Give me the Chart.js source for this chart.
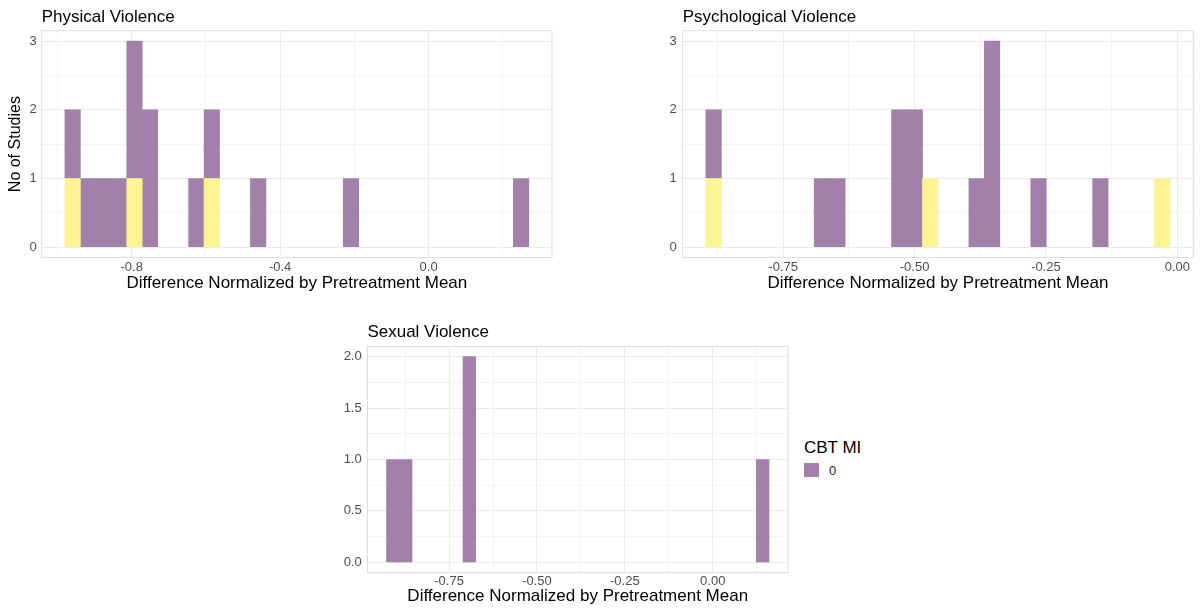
<!DOCTYPE html>
<html>
<head>
<meta charset="utf-8">
<script src="https://cdn.jsdelivr.net/npm/chart.js@4.4.1/dist/chart.umd.min.js"></script>
<style>
  body { margin: 0; background: #fff; }
  #wrap { position: relative; width: 1202px; height: 609px; font-family: 'Liberation Sans', Arial, sans-serif; }
  canvas { position: absolute; }
  #legend { position: absolute; left: 804px; top: 438px; }
  #legend .ttl { font-size: 17px; line-height: 20px; color: #000; }
  #legend .item { position: relative; margin-top: 5px; height: 15px; }
  #legend .sw { position: absolute; left: 0; top: 0; width: 15px; height: 14px; }
  #legend .lab { position: absolute; left: 25px; top: 0; font-size: 13px; line-height: 15px; color: #1a1a1a; }
</style>
</head>
<body>
<div id="wrap">
  <canvas id="physChart" width="560" height="300" style="left:0px;top:0px"></canvas>
  <canvas id="psychChart" width="602" height="300" style="left:600px;top:0px"></canvas>
  <canvas id="sexChart" width="470" height="289" style="left:330px;top:320px"></canvas>
  <div id="legend"></div>
</div>
<script>
// Datos: histogramas de 30 bins (conteos)
const xTitle = 'Difference Normalized by Pretreatment Mean';
const yTitle = 'No of Studies';
const legendTitle = 'CBT MI';
const legendLabels = ['0'];

// Physical Violence
const physRange = [-0.980, 0.270];
const physCbt0 = [1,1,1,1,2,2,0,0,1,1,0,0,1,0,0,0,0,0,1,0,0,0,0,0,0,0,0,0,0,1];
const physCbt1 = [1,0,0,0,1,0,0,0,0,1,0,0,0,0,0,0,0,0,0,0,0,0,0,0,0,0,0,0,0,0];
const physXMajor = [-0.8, -0.4, 0.0];
const physXLabels = ['-0.8', '-0.4', '0.0'];
const physXMinor = [-1.0, -0.6, -0.2, 0.2];
const physYMajor = [0, 1, 2, 3];
const physYLabels = ['0', '1', '2', '3'];
const physYMinor = [0.5, 1.5, 2.5];

// Psychological Violence
const psychRange = [-0.897, -0.014];
const psychCbt0 = [1,0,0,0,0,0,0,1,1,0,0,0,2,2,0,0,0,1,3,0,0,1,0,0,0,1,0,0,0,0];
const psychCbt1 = [1,0,0,0,0,0,0,0,0,0,0,0,0,0,1,0,0,0,0,0,0,0,0,0,0,0,0,0,0,1];
const psychXMajor = [-0.75, -0.5, -0.25, 0.0];
const psychXLabels = ['-0.75', '-0.50', '-0.25', '0.00'];
const psychXMinor = [-0.875, -0.625, -0.375, -0.125];

// Sexual Violence
const sexRange = [-0.928, 0.160];
const sexCbt0 = [1,1,0,0,0,0,2,0,0,0,0,0,0,0,0,0,0,0,0,0,0,0,0,0,0,0,0,0,0,1];
const sexXMajor = [-0.75, -0.5, -0.25, 0.0];
const sexXLabels = ['-0.75', '-0.50', '-0.25', '0.00'];
const sexXMinor = [-0.875, -0.625, -0.375, -0.125, 0.125];
const sexYMajor = [0, 0.5, 1, 1.5, 2];
const sexYLabels = ['0.0', '0.5', '1.0', '1.5', '2.0'];
const sexYMinor = [0.25, 0.75, 1.25, 1.75];

const purple = '#A280AA';
const yellow = '#FEF392';
const gridMajor = '#EBEBEB';
const gridMinor = '#F4F4F4';

Chart.defaults.font.family = "'Liberation Sans', Arial, sans-serif";

// centros de los bins
function binCenters(range, n) {
  const w = (range[1] - range[0]) / n;
  return Array.from({ length: n }, (_, i) => range[0] + (i + 0.5) * w);
}

// borde gris del panel
const panelBox = {
  id: 'panelBox',
  afterDatasetsDraw(chart) {
    const { ctx, chartArea: a } = chart;
    ctx.save();
    ctx.strokeStyle = '#DCDCDC';
    ctx.lineWidth = 1;
    ctx.strokeRect(a.left, a.top, a.right - a.left, a.bottom - a.top);
    ctx.restore();
  }
};

function makeHist(id, o) {
  const n = o.series[0].values.length;
  const centers = binCenters(o.range, n);
  const xPad = 0.05 * (o.range[1] - o.range[0]);
  const totals = centers.map((_, i) => o.series.reduce((s, d) => s + d.values[i], 0));
  const yMax = Math.max(...totals);
  const yPad = 0.05 * yMax;
  const xTicks = [...o.xMajor, ...o.xMinor].sort((a, b) => a - b);
  const yTicks = [...o.yMajor, ...o.yMinor].sort((a, b) => a - b);

  return new Chart(document.getElementById(id), {
    type: 'bar',
    data: {
      datasets: o.series.map(s => ({
        label: s.label,
        data: centers.map((x, i) => ({ x: x, y: s.values[i] })),
        backgroundColor: s.color,
        borderWidth: 0,
        // sin inflar los bins vacios (si no, queda una linea en el cero)
        inflateAmount: c => (c.raw && c.raw.y) ? 0.33 : 0,
        barPercentage: 1,
        categoryPercentage: 1
      }))
    },
    options: {
      responsive: false,
      animation: false,
      layout: { padding: { left: 0, right: o.padRight, top: 0, bottom: 0 } },
      plugins: {
        legend: { display: false },
        tooltip: { enabled: false },
        title: {
          display: true, text: o.title, align: 'start', fullSize: false, color: '#000',
          font: { size: 17, weight: 'normal' },
          padding: { top: o.titleTop, bottom: o.titleBottom }
        }
      },
      scales: {
        x: {
          type: 'linear', stacked: true, offset: false,
          min: o.range[0] - xPad, max: o.range[1] + xPad,
          afterBuildTicks: s => { s.ticks = xTicks.map(v => ({ value: v })); },
          afterFit: s => { s.height = o.xHeight; },
          ticks: {
            autoSkip: false, maxRotation: 0, padding: o.xTickPad, color: '#4D4D4D',
            font: { size: 13 },
            callback: v => { const k = o.xMajor.indexOf(v); return k < 0 ? '' : o.xLabels[k]; }
          },
          grid: {
            drawTicks: false, offset: false,
            color: c => (c.tick && o.xMajor.includes(c.tick.value)) ? gridMajor : gridMinor
          },
          border: { display: false },
          title: {
            display: true, text: xTitle, color: '#000', font: { size: 17 },
            padding: { top: 0, bottom: o.xTitlePad }
          }
        },
        y: {
          stacked: true, min: -yPad, max: yMax + yPad,
          afterBuildTicks: s => { s.ticks = yTicks.map(v => ({ value: v })); },
          afterFit: s => { s.width = o.yWidth; },
          ticks: {
            autoSkip: false, padding: o.yTickPad, color: '#4D4D4D', font: { size: 13 },
            callback: v => { const k = o.yMajor.indexOf(v); return k < 0 ? '' : o.yLabels[k]; }
          },
          grid: {
            drawTicks: false,
            color: c => (c.tick && o.yMajor.includes(c.tick.value)) ? gridMajor : gridMinor
          },
          border: { display: false },
          title: {
            display: !!o.yTitle, text: o.yTitle || '', color: '#000', font: { size: 16 },
            padding: { top: 6, bottom: 0 }
          }
        }
      }
    },
    plugins: [panelBox]
  });
}

makeHist('physChart', {
  title: 'Physical Violence', range: physRange,
  series: [
    { label: '1', values: physCbt1, color: yellow },
    { label: '0', values: physCbt0, color: purple }
  ],
  xMajor: physXMajor, xLabels: physXLabels, xMinor: physXMinor,
  yMajor: physYMajor, yLabels: physYLabels, yMinor: physYMinor,
  yTitle: yTitle,
  padRight: 8, titleTop: 6.8, titleBottom: 3.5, yWidth: 41.7, xHeight: 42.4,
  xTickPad: 1.6, xTitlePad: 6.8, yTickPad: 5
});

makeHist('psychChart', {
  title: 'Psychological Violence', range: psychRange,
  series: [
    { label: '1', values: psychCbt1, color: yellow },
    { label: '0', values: psychCbt0, color: purple }
  ],
  xMajor: psychXMajor, xLabels: psychXLabels, xMinor: psychXMinor,
  yMajor: physYMajor, yLabels: physYLabels, yMinor: physYMinor,
  padRight: 8.8, titleTop: 6.8, titleBottom: 3.5, yWidth: 82.7, xHeight: 42.4,
  xTickPad: 1.6, xTitlePad: 6.8, yTickPad: 6
});

makeHist('sexChart', {
  title: 'Sexual Violence', range: sexRange,
  series: [
    { label: '0', values: sexCbt0, color: purple }
  ],
  xMajor: sexXMajor, xLabels: sexXLabels, xMinor: sexXMinor,
  yMajor: sexYMajor, yLabels: sexYLabels, yMinor: sexYMinor,
  padRight: 11.9, titleTop: 2.5, titleBottom: 3.5, yWidth: 37.4, xHeight: 36.4,
  xTickPad: 1.3, xTitlePad: 2.1, yTickPad: 5.7
});

// leyenda
const legendEl = document.getElementById('legend');
let html = '<div class="ttl">' + legendTitle + '</div>';
legendLabels.forEach(l => {
  html += '<div class="item"><span class="sw" style="background:' + purple + '"></span><span class="lab">' + l + '</span></div>';
});
legendEl.innerHTML = html;
</script>
</body>
</html>
